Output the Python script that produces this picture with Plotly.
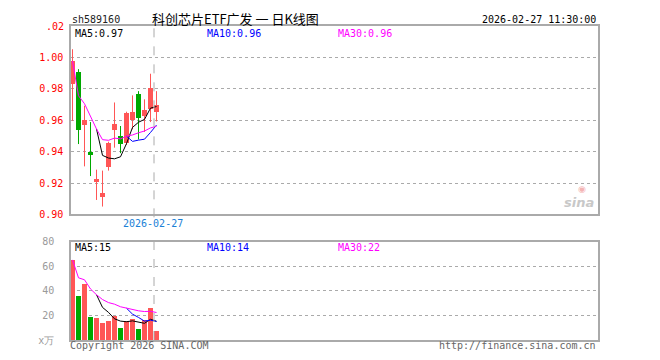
import plotly.graph_objects as go

# ---------------- data ----------------
day_idx = list(range(15))
opens  = [0.9831, 0.9906, 0.9567, 0.9400, 0.9208, 0.9108, 0.9300, 0.9535, 0.9500, 0.9452, 0.9602, 0.9765, 0.9629, 0.9671, 0.9654]
closes = [0.9977, 0.9535, 0.9602, 0.9379, 0.9227, 0.9135, 0.9452, 0.9577, 0.9446, 0.9646, 0.9650, 0.9615, 0.9667, 0.9806, 0.9696]
highs  = [1.0052, 0.9925, 0.9692, 0.9588, 0.9285, 0.9279, 0.9463, 0.9713, 0.9563, 0.9654, 0.9758, 0.9785, 0.9733, 0.9896, 0.9785]
lows   = [0.9596, 0.9448, 0.9306, 0.9244, 0.9092, 0.9050, 0.9279, 0.9425, 0.9390, 0.9442, 0.9542, 0.9477, 0.9525, 0.9588, 0.9592]

ma5  = [None, None, None, None, 0.9544, 0.9376, 0.9359, 0.9354, 0.9367, 0.9451, 0.9554, 0.9587, 0.9605, 0.9677, 0.9687]
ma10 = [None]*9 + [0.9498, 0.9465, 0.9473, 0.9479, 0.9522, 0.9569]
ma30 = [0.9977, 0.9756, 0.9705, 0.9623, 0.9544, 0.9476, 0.9472, 0.9486, 0.9481, 0.9498, 0.9506, 0.9520, 0.9531, 0.9551, 0.9561]

volumes = [65.3, 36.0, 45.9, 19.2, 18.1, 13.6, 15.5, 20.0, 9.9, 15.5, 17.3, 8.8, 16.5, 26.4, 7.5]
vma5  = [None, None, None, None, 36.9, 26.6, 22.5, 17.3, 15.4, 14.9, 15.6, 14.3, 13.6, 16.9, 15.3]
vma10 = [None]*9 + [25.9, 21.1, 18.4, 15.4, 16.2, 15.1]
vma30 = [65.3, 50.7, 49.1, 41.6, 36.9, 33.0, 30.5, 29.2, 27.1, 25.9, 25.1, 23.8, 23.2, 23.4, 22.4]

price_ticks = [0.90, 0.92, 0.94, 0.96, 0.98, 1.00]
vol_ticks = [0, 20, 40, 60, 80]
vol_tick_text = ["x万", "20", "40", "60", "80"]

code = "sh589160"
title = "科创芯片ETF广发 一 日K线图"
stamp = "2026-02-27 11:30:00"
cursor_date = "2026-02-27"
ma_labels = ["MA5:0.97", "MA10:0.96", "MA30:0.96"]
vma_labels = ["MA5:15", "MA10:14", "MA30:22"]

# ---------------- style ----------------
RED = "#ff5656"
GREEN = "#00a800"
GRID = "#aaaaaa"
MONO = "DejaVu Sans Mono"
OFF = 8                      # page body margin of the browser
W, H = 660 - OFF, 360 - OFF  # figure fills the window after the body margin
L, R, T, B = 71, 598, 20, 340  # plot box in window pixels


def px(x):
    return (x - L) / (R - L)


def py(y):
    return (B - y) / (B - T)


up = [c >= o for o, c in zip(opens, closes)]
colors = [RED if u else GREEN for u in up]
bases = [min(o, c) for o, c in zip(opens, closes)]
heights = [max(abs(c - o), 0.0008) for o, c in zip(opens, closes)]

fig = go.Figure()

# wicks
for flag, col in ((True, RED), (False, GREEN)):
    xs, ys = [], []
    for i, u in enumerate(up):
        if u == flag:
            xs += [day_idx[i], day_idx[i], None]
            ys += [lows[i], highs[i], None]
    fig.add_trace(go.Scatter(x=xs, y=ys, mode="lines", line=dict(color=col, width=1),
                             xaxis="x", yaxis="y", hoverinfo="skip"))

# bodies
fig.add_trace(go.Bar(x=day_idx, y=heights, base=bases, width=0.83,
                     marker=dict(color=colors, line=dict(width=0)),
                     xaxis="x", yaxis="y"))

# price MAs
for series, col in ((ma5, "black"), (ma10, "#0000ff"), (ma30, "#ff00ff")):
    fig.add_trace(go.Scatter(x=day_idx, y=series, mode="lines", line=dict(color=col, width=1),
                             xaxis="x", yaxis="y", connectgaps=False))

# volume bars
fig.add_trace(go.Bar(x=day_idx, y=volumes, width=0.83,
                     marker=dict(color=colors, line=dict(width=0)),
                     xaxis="x2", yaxis="y2"))
for series, col in ((vma5, "black"), (vma10, "#0000ff"), (vma30, "#ff00ff")):
    fig.add_trace(go.Scatter(x=day_idx, y=series, mode="lines", line=dict(color=col, width=1),
                             xaxis="x2", yaxis="y2"))

xr = [-0.25, 87.58]
axis_common = dict(showline=True, mirror=True, linecolor=GRID, linewidth=1.5, zeroline=False, ticks="")

fig.update_layout(
    width=W, height=H,
    margin=dict(l=L - OFF, r=W - (R - OFF), t=T - OFF, b=H - (B - OFF), pad=0),
    plot_bgcolor="white", paper_bgcolor="white",
    showlegend=False, bargap=0,
    xaxis=dict(domain=[0, 1], range=xr, anchor="y", showgrid=False, showticklabels=False, **axis_common),
    yaxis=dict(domain=[0.4, 1.0], range=[0.90, 1.02], anchor="x", tickvals=price_ticks,
               tickformat=".2f", tickfont=dict(color="red", family=MONO, size=10),
               showgrid=True, gridcolor=GRID, griddash="dot", gridwidth=1,
               ticklabelstandoff=4, **axis_common),
    xaxis2=dict(domain=[0, 1], range=xr, anchor="y2", showgrid=False, showticklabels=False, **axis_common),
    yaxis2=dict(domain=[0, 0.3125], range=[0, 80], anchor="x2", tickvals=vol_ticks, ticktext=vol_tick_text,
                tickfont=dict(color="#9a9a9a", family=MONO, size=10),
                showgrid=True, gridcolor=GRID, griddash="dot", gridwidth=1,
                ticklabelstandoff=13, **axis_common),
)

# cursor dashed line
cx = px(154)
fig.add_shape(type="line", xref="paper", yref="paper", x0=cx, x1=cx, y0=py(215), y1=py(20),
              line=dict(color=GRID, width=1, dash="dash"))
fig.add_shape(type="line", xref="paper", yref="paper", x0=cx, x1=cx, y0=py(340), y1=py(240),
              line=dict(color=GRID, width=1, dash="dash"))


def text(x, y, s, color="black", size=10, family=MONO, xanchor="left", **kw):
    fig.add_annotation(xref="paper", yref="paper", x=px(x), y=py(y), text=s, showarrow=False,
                       xanchor=xanchor, yanchor="middle",
                       font=dict(color=color, size=size, family=family), **kw)


text(70, 13, code, color="#222222")
text(150, 12, title, color="black", size=13, family="Noto Sans CJK SC")
text(598, 13, stamp, color="black", xanchor="right")
text(66, 21, ".02", color="red", xanchor="right")

text(73, 28, ma_labels[0], color="black")
text(205, 28, ma_labels[1], color="#0000ff")
text(336, 28, ma_labels[2], color="#ff00ff")

text(73, 246, vma_labels[0], color="black")
text(205, 246, vma_labels[1], color="#0000ff")
text(336, 246, vma_labels[2], color="#ff00ff")

text(153, 221, cursor_date, color="#1a7fd6", xanchor="center")

text(68, 346, "Copyright 2026 SINA.COM", color="#666666")
text(598, 346, "http://finance.sina.com.cn", color="#666666", xanchor="right")

# faint sina watermark
text(582, 186, "◉", color="#f4b4b4", size=9, family="DejaVu Sans", xanchor="center")
text(596, 200, "<b><i>sina</i></b>", color="#c8c8c8", size=13, family="DejaVu Sans", xanchor="right")

fig.write_html("out.html")
